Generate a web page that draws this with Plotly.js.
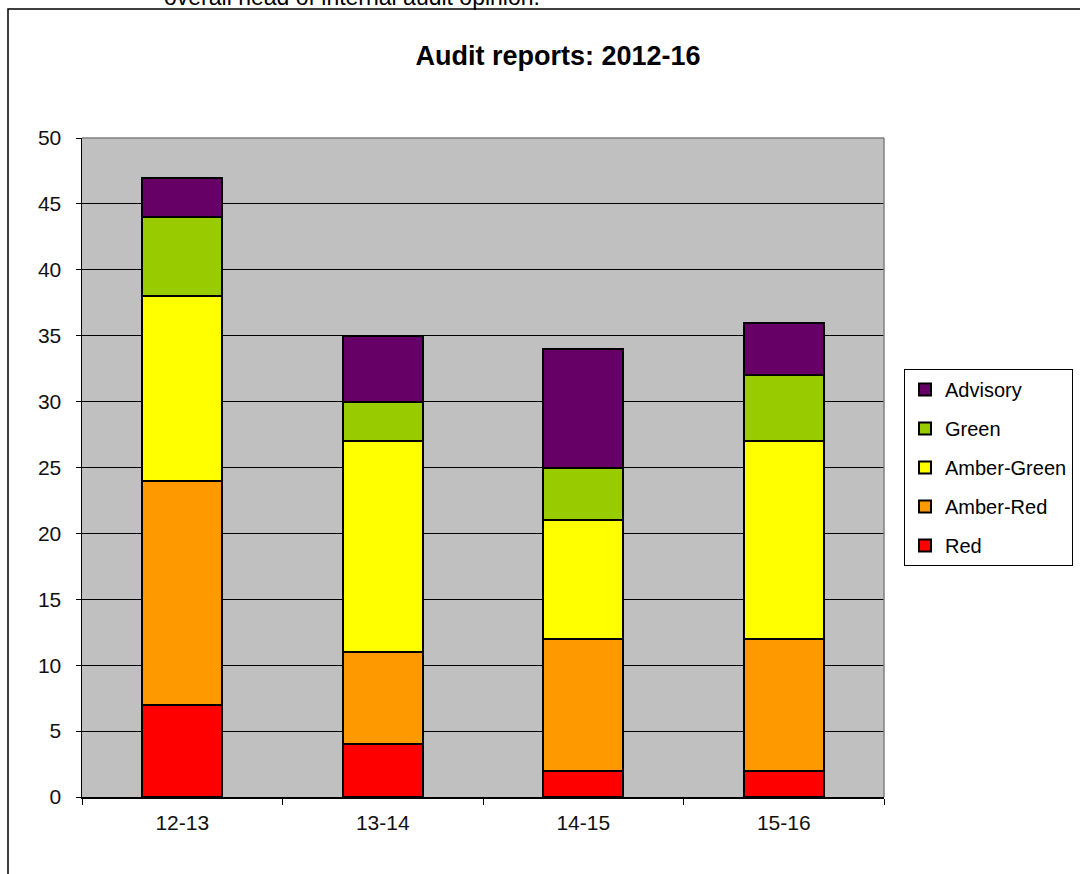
<!DOCTYPE html>
<html>
<head>
<meta charset="utf-8">
<script src="https://cdn.plot.ly/plotly-3.0.1.min.js"></script>
<style>html,body{margin:0;padding:0;background:#fff;}#chart{width:1080px;height:874px;}</style>
</head>
<body>
<div id="chart"></div>
<script>
const categories = ["12-13", "13-14", "14-15", "15-16"];
const seriesNames = ["Red", "Amber-Red", "Amber-Green", "Green", "Advisory"];
const red = [7, 4, 2, 2];
const amberRed = [17, 7, 10, 10];
const amberGreen = [14, 16, 9, 15];
const green = [6, 3, 4, 5];
const advisory = [3, 5, 9, 4];
const yTicks = [0, 5, 10, 15, 20, 25, 30, 35, 40, 45, 50];
const titleText = "Audit reports: 2012-16";
const topText = "overall head of internal audit opinion.";

const colors = ["#FF0000", "#FF9900", "#FFFF00", "#99CC00", "#660066"];
const values = [red, amberRed, amberGreen, green, advisory];
const FONT = "Liberation Sans, Arial, sans-serif";

const traces = values.map((v, i) => ({
  type: "bar",
  name: seriesNames[i],
  x: categories,
  y: v,
  legendgroup: "g" + i,
  legendrank: 1000 - i,
  marker: {color: colors[i], line: {color: "#000", width: 2}},
  hoverinfo: "x+y+name"
}));

const L = 82, R = 884, T = 138, B = 797;
const W = R - L, H = B - T;
const px = x => (x - L) / W;
const py = y => (B - y) / H;

const layout = {
  width: 1080, height: 874,
  margin: {l: L, r: 1080 - R, t: T, b: 874 - B, pad: 0},
  paper_bgcolor: "#fff",
  plot_bgcolor: "#C0C0C0",
  barmode: "stack",
  bargap: 0.6,
  font: {family: FONT, color: "#000", size: 20},
  title: {
    text: "<b>" + titleText + "</b>",
    font: {family: FONT, size: 27, color: "#000"},
    x: 558 / 1080, xanchor: "center", xref: "container",
    y: 1 - 56 / 874, yanchor: "middle", yref: "container"
  },
  xaxis: {
    type: "category",
    tickson: "boundaries",
    ticks: "outside", ticklen: 6, tickcolor: "#000", tickwidth: 1,
    showline: true, linecolor: "#000", linewidth: 1.5,
    showgrid: false, zeroline: false,
    tickfont: {family: FONT, size: 21, color: "#111"},
    ticklabelstandoff: 6,
    fixedrange: true
  },
  yaxis: {
    range: [0, 50],
    tickvals: yTicks,
    ticktext: yTicks.map(String),
    ticks: "outside", ticklen: 5, tickcolor: "#000", tickwidth: 1,
    showline: true, linecolor: "#000", linewidth: 1.5,
    showgrid: true, gridcolor: "#000", gridwidth: 1,
    zeroline: false,
    tickfont: {family: FONT, size: 21, color: "#111"},
    ticklabelstandoff: 10,
    fixedrange: true
  },
  legend: {
    xref: "container", yref: "container",
    x: 904 / 1080, xanchor: "left",
    y: 1 - 369 / 874, yanchor: "top",
    bgcolor: "#fff", bordercolor: "#000", borderwidth: 1,
    font: {family: FONT, size: 20, color: "#000"},
    traceorder: "grouped",
    tracegroupgap: 10
  },
  showlegend: true,
  shapes: [
    {type: "rect", xref: "paper", yref: "paper",
     x0: px(8), x1: 1.4, y0: -0.3, y1: py(9),
     line: {color: "#000", width: 1.5}, fillcolor: "rgba(0,0,0,0)", layer: "below"},
    {type: "line", xref: "paper", yref: "paper", x0: 0, x1: 1, y0: 1, y1: 1,
     line: {color: "#808080", width: 1.5}, layer: "above"},
    {type: "line", xref: "paper", yref: "paper", x0: 1, x1: 1, y0: 0, y1: 1,
     line: {color: "#808080", width: 1.5}, layer: "above"}
  ],
  annotations: [
    {text: topText, xref: "paper", yref: "paper",
     x: px(352), xanchor: "center", y: py(-3), yanchor: "middle",
     showarrow: false, font: {family: FONT, size: 23, color: "#000"}}
  ]
};

Plotly.newPlot("chart", traces, layout, {displayModeBar: false, staticPlot: true});
</script>
</body>
</html>
